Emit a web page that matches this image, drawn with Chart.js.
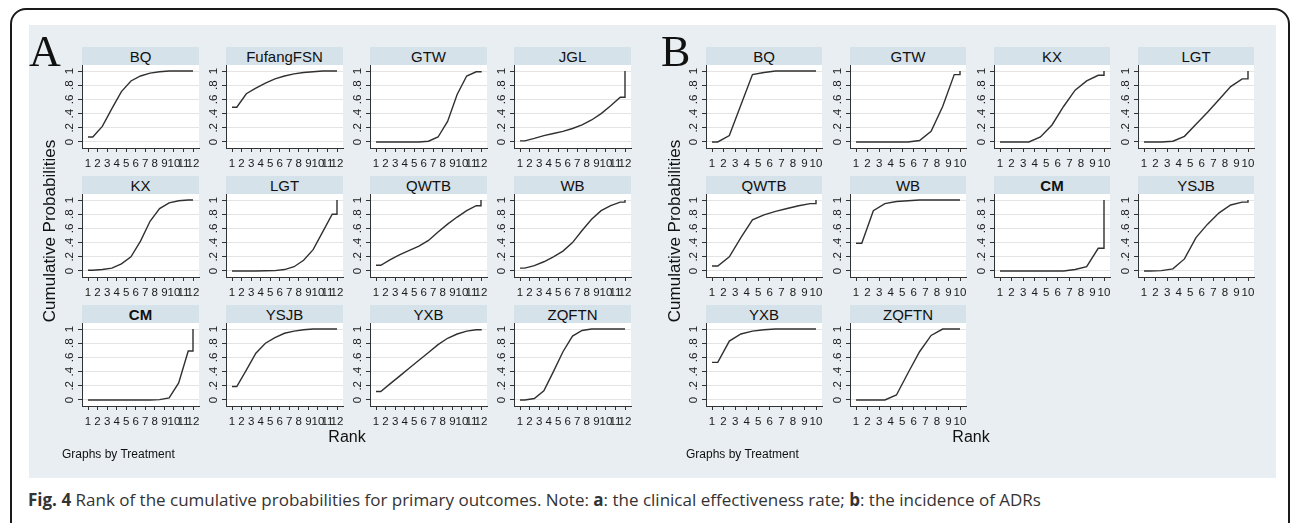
<!DOCTYPE html>
<html lang="en">
<head>
<meta charset="UTF-8">
<title>Rank of the cumulative probabilities</title>
<script src="https://cdn.jsdelivr.net/npm/chart.js@4"></script>
<style>
    body {
        margin: 0;
        width: 1292px;
        height: 523px;
        overflow: hidden;
        background: #fff;
        position: relative;
        font-family: "Liberation Sans", Arial, sans-serif;
        color: #111;
    }
    .frame {
        position: absolute;
        left: 10px; top: 8px;
        width: 1280px; height: 580px;
        border: 2px solid #1a1a1a;
        border-radius: 16px;
        box-sizing: border-box;
    }
    .panel {
        position: absolute;
        left: 29px; top: 25px;
        width: 1247px; height: 453px;
        background: #e8eef1;
    }
    .strip {
        position: absolute;
        height: 18px;
        line-height: 19px;
        background: #d6e2e9;
        text-align: center;
        font-size: 15px;
    }
    .letter {
        position: absolute;
        font-family: "Liberation Serif", "Times New Roman", serif;
        font-size: 44px;
        line-height: 44px;
    }
    .ytitle {
        position: absolute;
        font-size: 17px;
        white-space: nowrap;
        transform: translate(-50%, -50%) rotate(-90deg);
    }
    .xtitle {
        position: absolute;
        font-size: 16px;
        transform: translate(-50%, -50%);
    }
    .note {
        position: absolute;
        font-size: 12px;
        transform: translateY(-50%);
    }
    .caption {
        position: absolute;
        left: 28px; top: 488px;
        font-family: "Open Sans", sans-serif;
        font-size: 17px;
        color: #333;
        white-space: nowrap;
    }
    canvas { position: absolute; }
</style>
</head>
<body>
<div class="frame"></div>
<div class="panel"></div>
<div class="caption"><b>Fig. 4</b> Rank of the cumulative probabilities for primary outcomes. Note: <b>a</b>: the clinical effectiveness rate; <b>b</b>: the incidence of ADRs</div>

<script>
    // Ranks and y ticks
    const ranksA = [1, 2, 3, 4, 5, 6, 7, 8, 9, 10, 11, 12];
    const ranksB = [1, 2, 3, 4, 5, 6, 7, 8, 9, 10];
    const yTicks = [0, 0.2, 0.4, 0.6, 0.8, 1];
    const yTickLabels = ['0', '.2', '.4', '.6', '.8', '1'];

    // Panel A: clinical effectiveness rate (cumulative probability by rank)
    const namesA = ['BQ', 'FufangFSN', 'GTW', 'JGL', 'KX', 'LGT', 'QWTB', 'WB', 'CM', 'YSJB', 'YXB', 'ZQFTN'];
    const cumA_BQ = [0.07, 0.22, 0.47, 0.71, 0.86, 0.93, 0.97, 0.99, 1, 1, 1, 1];
    const cumA_FufangFSN = [0.49, 0.68, 0.76, 0.83, 0.89, 0.93, 0.96, 0.98, 0.99, 1, 1, 1];
    const cumA_GTW = [0, 0, 0, 0, 0, 0.01, 0.07, 0.29, 0.67, 0.93, 0.99, 1];
    const cumA_JGL = [0.015, 0.05, 0.09, 0.12, 0.15, 0.19, 0.24, 0.31, 0.4, 0.51, 0.63, 1];
    const cumA_KX = [0.01, 0.02, 0.04, 0.1, 0.2, 0.42, 0.7, 0.88, 0.96, 0.99, 1, 1];
    const cumA_LGT = [0, 0, 0, 0.003, 0.005, 0.02, 0.06, 0.15, 0.3, 0.55, 0.8, 1];
    const cumA_QWTB = [0.08, 0.16, 0.23, 0.29, 0.35, 0.43, 0.55, 0.66, 0.76, 0.85, 0.92, 1];
    const cumA_WB = [0.04, 0.075, 0.13, 0.2, 0.28, 0.4, 0.57, 0.73, 0.85, 0.92, 0.97, 1];
    const cumA_CM = [0, 0, 0, 0, 0, 0, 0, 0.005, 0.03, 0.24, 0.69, 1];
    const cumA_YSJB = [0.19, 0.42, 0.66, 0.8, 0.88, 0.94, 0.97, 0.99, 1, 1, 1, 1];
    const cumA_YXB = [0.12, 0.23, 0.34, 0.45, 0.56, 0.67, 0.78, 0.87, 0.93, 0.97, 0.99, 1];
    const cumA_ZQFTN = [0, 0.02, 0.13, 0.4, 0.68, 0.9, 0.98, 1, 1, 1, 1, 1];

    // Panel B: incidence of ADRs
    const namesB = ['BQ', 'GTW', 'KX', 'LGT', 'QWTB', 'WB', 'CM', 'YSJB', 'YXB', 'ZQFTN'];
    const cumB_BQ = [0, 0.09, 0.52, 0.95, 0.98, 1, 1, 1, 1, 1];
    const cumB_GTW = [0, 0, 0, 0, 0, 0.02, 0.15, 0.5, 0.95, 1];
    const cumB_KX = [0, 0, 0, 0.07, 0.24, 0.5, 0.73, 0.86, 0.94, 1];
    const cumB_LGT = [0, 0, 0.01, 0.08, 0.25, 0.42, 0.6, 0.78, 0.89, 1];
    const cumB_QWTB = [0.07, 0.2, 0.47, 0.72, 0.79, 0.84, 0.88, 0.92, 0.95, 1];
    const cumB_WB = [0.39, 0.85, 0.95, 0.98, 0.99, 1, 1, 1, 1, 1];
    const cumB_CM = [0, 0, 0, 0, 0, 0, 0.02, 0.06, 0.32, 1];
    const cumB_YSJB = [0, 0.005, 0.03, 0.17, 0.47, 0.66, 0.82, 0.93, 0.97, 1];
    const cumB_YXB = [0.53, 0.83, 0.93, 0.97, 0.99, 1, 1, 1, 1, 1];
    const cumB_ZQFTN = [0, 0, 0, 0.07, 0.38, 0.68, 0.91, 1, 1, 1];

    const seriesA = [cumA_BQ, cumA_FufangFSN, cumA_GTW, cumA_JGL, cumA_KX, cumA_LGT,
                     cumA_QWTB, cumA_WB, cumA_CM, cumA_YSJB, cumA_YXB, cumA_ZQFTN];
    const seriesB = [cumB_BQ, cumB_GTW, cumB_KX, cumB_LGT, cumB_QWTB, cumB_WB,
                     cumB_CM, cumB_YSJB, cumB_YXB, cumB_ZQFTN];

    // Layout of the small multiples (pixels)
    const colsA = [82, 226, 370, 514];
    const colsB = [706, 850, 994, 1138];
    const rowTops = [47, 176, 305];
    const stripH = 18;
    const plotH = 83;
    const fontFam = '"Liberation Sans", Arial, sans-serif';

    // Stata-style line: value k drawn at k+0.5, flat start, step up at the last rank
    function toPoints(ranks, cum) {
        const n = ranks.length;
        const pts = [{ x: ranks[0], y: cum[0] }];
        for (let k = 0; k < n - 1; k++) pts.push({ x: ranks[k] + 0.5, y: cum[k] });
        pts.push({ x: ranks[n - 1], y: cum[n - 2] });
        pts.push({ x: ranks[n - 1], y: cum[n - 1] });
        return pts;
    }

    // White plot face and rotated y tick labels
    const stataFace = {
        id: 'stataFace',
        beforeDraw(chart) {
            const { ctx, chartArea: a } = chart;
            ctx.save();
            ctx.fillStyle = '#fff';
            ctx.fillRect(a.left, a.top, a.right - a.left, a.bottom - a.top);
            ctx.restore();
        },
        afterDraw(chart) {
            const ctx = chart.ctx;
            const y = chart.scales.y;
            ctx.save();
            ctx.font = '11.5px ' + fontFam;
            ctx.fillStyle = '#1a1a1a';
            ctx.textAlign = 'center';
            ctx.textBaseline = 'middle';
            yTicks.forEach((v, i) => {
                ctx.save();
                ctx.translate(y.right - 12, y.getPixelForValue(v));
                ctx.rotate(-Math.PI / 2);
                ctx.fillText(yTickLabels[i], 0, 0);
                ctx.restore();
            });
            ctx.restore();
        }
    };

    function addText(cls, text, x, y) {
        const d = document.createElement('div');
        d.className = cls;
        d.textContent = text;
        d.style.left = x + 'px';
        d.style.top = y + 'px';
        document.body.appendChild(d);
        return d;
    }

    function drawPanel(names, series, ranks, cols, plotW) {
        const n = ranks.length;
        const pad = 6 * (n - 1) / (plotW - 12);
        names.forEach((name, i) => {
            const L = cols[i % 4];
            const T = rowTops[Math.floor(i / 4)];

            const strip = addText('strip', name, L, T);
            strip.style.width = plotW + 'px';
            if (name === 'CM') strip.style.fontWeight = 'bold';

            const cv = document.createElement('canvas');
            const leftW = 30, topP = 6, rightP = 10, bottomH = 26;
            cv.width = leftW + plotW + rightP;
            cv.height = topP + plotH + bottomH;
            cv.style.left = (L - leftW) + 'px';
            cv.style.top = (T + stripH - topP) + 'px';
            document.body.appendChild(cv);

            new Chart(cv, {
                type: 'line',
                data: {
                    datasets: [{
                        data: toPoints(ranks, series[i]),
                        borderColor: '#303030',
                        borderWidth: 1.4,
                        pointRadius: 0,
                        tension: 0,
                        fill: false
                    }]
                },
                options: {
                    responsive: false,
                    animation: false,
                    devicePixelRatio: 1,
                    layout: { padding: { left: 0, top: topP, right: rightP, bottom: 0 } },
                    plugins: { legend: { display: false }, tooltip: { enabled: false } },
                    scales: {
                        x: {
                            type: 'linear',
                            min: 1 - pad,
                            max: n + pad,
                            afterBuildTicks: s => { s.ticks = ranks.map(v => ({ value: v })); },
                            afterFit: s => { s.height = bottomH; },
                            ticks: {
                                autoSkip: false,
                                maxRotation: 0,
                                minRotation: 0,
                                padding: 5,
                                color: '#1a1a1a',
                                font: { family: fontFam, size: 11.5 },
                                callback: v => String(v)
                            },
                            grid: {
                                drawOnChartArea: false,
                                drawTicks: true,
                                tickLength: 4,
                                tickColor: '#333'
                            },
                            border: { display: true, color: '#333', width: 1 }
                        },
                        y: {
                            min: -0.085,
                            max: 1.085,
                            afterBuildTicks: s => { s.ticks = yTicks.map(v => ({ value: v })); },
                            afterFit: s => { s.width = leftW; },
                            ticks: { display: false },
                            grid: {
                                color: '#e4e4e4',
                                lineWidth: 1,
                                drawTicks: true,
                                tickLength: 4,
                                tickColor: '#333'
                            },
                            border: { display: true, color: '#333', width: 1 }
                        }
                    }
                },
                plugins: [stataFace]
            });
        });
    }

    drawPanel(namesA, seriesA, ranksA, colsA, 117);
    drawPanel(namesB, seriesB, ranksB, colsB, 116);

    // Panel letters and axis titles
    addText('letter', 'A', 29, 30);
    addText('letter', 'B', 661, 30);
    addText('ytitle', 'Cumulative Probabilities', 50, 231);
    addText('ytitle', 'Cumulative Probabilities', 675, 231);
    addText('xtitle', 'Rank', 347, 437);
    addText('xtitle', 'Rank', 971, 437);
    addText('note', 'Graphs by Treatment', 62, 454);
    addText('note', 'Graphs by Treatment', 686, 454);
</script>
</body>
</html>
